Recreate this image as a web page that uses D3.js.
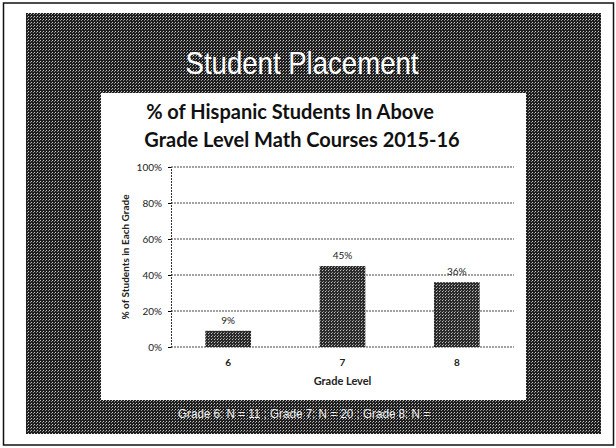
<!DOCTYPE html>
<html>
<head>
<meta charset="utf-8">
<script src="https://cdn.jsdelivr.net/npm/d3@7"></script>
<style>
  body { margin: 0; background: #fff; }
  svg { display: block; }
</style>
</head>
<body>
<div id="chart"></div>
<script>
// data
var grades = ['6', '7', '8']
var percents = [9, 45, 36]
var barLabels = ['9%', '45%', '36%']
var yTicks = [0, 20, 40, 60, 80, 100]
var titleLines = ['% of Hispanic Students In Above', 'Grade Level Math Courses 2015-16']
var footNote = 'Grade 6: N = 11 ;  Grade 7: N = 20 ;  Grade 8: N ='

var W = 616
var H = 448

var svg = d3.select('#chart')
  .append('svg')
  .attr('width', W)
  .attr('height', H)

// halftone look of the scanned slide
var defs = svg.append('defs')
var bg = defs.append('pattern')
  .attr('id', 'halftone')
  .attr('width', 3)
  .attr('height', 3)
  .attr('patternUnits', 'userSpaceOnUse')
bg.append('rect').attr('width', 3).attr('height', 3).attr('fill', '#1e1e1e')
bg.append('rect').attr('x', 1).attr('y', 1).attr('width', 1).attr('height', 1).attr('fill', '#c8c8c8')
bg.append('rect').attr('x', 0).attr('y', 2).attr('width', 1).attr('height', 1).attr('fill', '#8a8a8a')

var barPat = defs.append('pattern')
  .attr('id', 'barfill')
  .attr('width', 3)
  .attr('height', 3)
  .attr('patternUnits', 'userSpaceOnUse')
barPat.append('rect').attr('width', 3).attr('height', 3).attr('fill', '#2a2a2a')
barPat.append('rect').attr('x', 1).attr('y', 1).attr('width', 1).attr('height', 1).attr('fill', '#c0c0c0')
barPat.append('rect').attr('x', 2).attr('y', 0).attr('width', 1).attr('height', 1).attr('fill', '#8a8a8a')

// page frame
svg.append('rect')
  .attr('x', 3.5)
  .attr('y', 3)
  .attr('width', 610)
  .attr('height', 442)
  .attr('fill', 'none')
  .attr('stroke', '#111')
  .attr('stroke-width', 1.5)

// slide background
svg.append('rect')
  .attr('x', 26)
  .attr('y', 13)
  .attr('width', 575)
  .attr('height', 421)
  .attr('fill', 'url(#halftone)')

svg.append('text')
  .text('Student Placement')
  .attr('x', 302)
  .attr('y', 74)
  .attr('text-anchor', 'middle')
  .attr('fill', '#fff')
  .attr('font-family', 'Liberation Sans Narrow, Liberation Sans, Arial, sans-serif')
  .attr('font-size', 32)
  .attr('textLength', 233)
  .attr('lengthAdjust', 'spacingAndGlyphs')

// white chart panel
svg.append('rect')
  .attr('x', 101)
  .attr('y', 93)
  .attr('width', 425)
  .attr('height', 307)
  .attr('fill', '#fff')

var title = svg.append('text')
  .attr('text-anchor', 'middle')
  .attr('font-family', 'Lato, Open Sans, sans-serif')
  .attr('font-weight', 'bold')
  .attr('font-size', 20)
  .attr('fill', '#111')
title.selectAll('tspan')
  .data(titleLines)
  .enter()
  .append('tspan')
  .attr('x', (d, i) => (i === 0 ? 290 : 302))
  .attr('y', (d, i) => 119 + i * 28)
  .text(d => d)

var margin = { top: 167, left: 171, right: 102, bottom: 101 }
var width = W - margin.left - margin.right
var height = H - margin.top - margin.bottom

var g = svg.append('g')
  .attr('transform', 'translate(' + margin.left + ',' + margin.top + ')')

var xPositionScale = d3.scaleBand()
  .domain(grades)
  .range([0, width])
  .paddingInner(0.6)
  .paddingOuter(0.3)

var yPositionScale = d3.scaleLinear()
  .domain([0, 100])
  .range([height, 0])

// gridlines
g.selectAll('.grid')
  .data(yTicks)
  .enter()
  .append('line')
  .attr('class', 'grid')
  .attr('x1', 0)
  .attr('x2', width)
  .attr('y1', d => yPositionScale(d))
  .attr('y2', d => yPositionScale(d))
  .attr('stroke', '#444')
  .attr('stroke-width', 1)
  .attr('stroke-dasharray', '2,1')

var yAxis = d3.axisLeft(yPositionScale)
  .tickValues(yTicks)
  .tickFormat(d => d + '%')
  .tickSize(3)
  .tickPadding(6)
g.append('g')
  .attr('class', 'axis y-axis')
  .call(yAxis)
  .call(s => s.select('.domain').attr('stroke', '#333').attr('stroke-dasharray', '2,1'))
  .call(s => s.selectAll('text').attr('font-size', 10).attr('font-family', 'Lato, sans-serif').attr('fill', '#222'))

var xAxis = d3.axisBottom(xPositionScale).tickSize(0).tickPadding(12)
g.append('g')
  .attr('class', 'axis x-axis')
  .attr('transform', 'translate(0,' + height + ')')
  .call(xAxis)
  .call(s => s.select('.domain').remove())
  .call(s => s.selectAll('text').attr('font-size', 10).attr('font-weight', 'bold').attr('font-family', 'Lato, sans-serif').attr('fill', '#222'))

// bars
g.selectAll('.bar')
  .data(percents)
  .enter()
  .append('rect')
  .attr('class', 'bar')
  .attr('x', (d, i) => xPositionScale(grades[i]))
  .attr('y', d => yPositionScale(d))
  .attr('width', xPositionScale.bandwidth())
  .attr('height', d => height - yPositionScale(d))
  .attr('fill', 'url(#barfill)')

g.selectAll('.bar-label')
  .data(percents)
  .enter()
  .append('text')
  .attr('class', 'bar-label')
  .text((d, i) => barLabels[i])
  .attr('x', (d, i) => xPositionScale(grades[i]) + xPositionScale.bandwidth() / 2)
  .attr('y', d => yPositionScale(d))
  .attr('dy', -7)
  .attr('text-anchor', 'middle')
  .attr('font-size', 10)
  .attr('font-family', 'Lato, sans-serif')
  .attr('fill', '#222')

// axis titles
svg.append('text')
  .text('Grade Level')
  .attr('x', margin.left + width / 2)
  .attr('y', 385)
  .attr('text-anchor', 'middle')
  .attr('font-size', 11)
  .attr('font-weight', 'bold')
  .attr('font-family', 'Lato, sans-serif')
  .attr('fill', '#222')

svg.append('text')
  .text('% of Students in Each Grade')
  .attr('transform', 'translate(129,' + (margin.top + height / 2) + ') rotate(-90)')
  .attr('text-anchor', 'middle')
  .attr('font-size', 10)
  .attr('font-weight', 'bold')
  .attr('font-family', 'Lato, sans-serif')
  .attr('fill', '#222')

// footnote on the slide
svg.append('text')
  .text(footNote)
  .attr('x', 178)
  .attr('y', 418)
  .attr('fill', '#eee')
  .attr('font-size', 13)
  .attr('font-family', 'Liberation Sans Narrow, Liberation Sans, sans-serif')
  .attr('textLength', 252)
  .attr('lengthAdjust', 'spacingAndGlyphs')
</script>
</body>
</html>
